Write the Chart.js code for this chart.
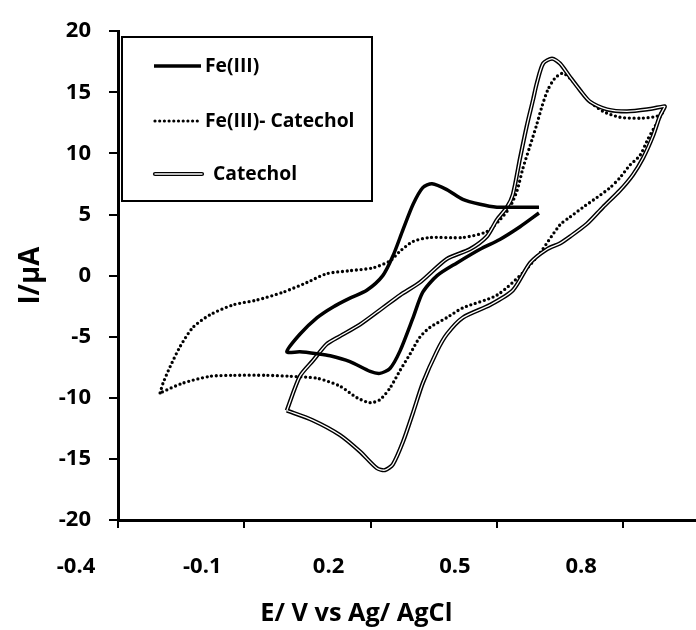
<!DOCTYPE html>
<html>
<head>
<meta charset="utf-8">
<script src="https://cdn.jsdelivr.net/npm/chart.js@4.4.1/dist/chart.umd.min.js"></script>
<style>
  html,body{margin:0;padding:0;background:#fff;overflow:hidden;}
  #wrap{width:696px;height:630px;position:relative;}
</style>
</head>
<body>
<div id="wrap"><canvas id="c" width="696" height="630"></canvas></div>
<script>
// ---- data ----
const seriesNames = ['Fe(III)', 'Fe(III)- Catechol', 'Catechol'];
const xTickValues = [-0.4, -0.1, 0.2, 0.5, 0.8];
const yTickValues = [-20, -15, -10, -5, 0, 5, 10, 15, 20];
const xTitle = 'E/ V vs Ag/ AgCl';
const yTitle = 'I/μA';

// Fe(III): E (V) and I (uA)
const feE = [0.600,0.555,0.507,0.460,0.405,0.358,0.324,0.301,0.270,0.246,
             0.222,0.199,0.151,0.104,0.073,0.032,0.001,
             0.032,0.073,0.111,0.151,0.191,0.229,0.253,0.277,0.301,0.324,
             0.346,0.381,0.419,0.460,0.500,0.538,0.600];
const feI = [5.12,4.0,2.96,2.16,1.04,0.0,-1.36,-3.44,-6.16,-7.6,
             -8.0,-7.84,-7.04,-6.56,-6.4,-6.24,-6.24,
             -4.8,-3.44,-2.56,-1.84,-1.2,0.0,1.6,3.76,5.84,7.2,
             7.52,7.04,6.24,5.84,5.6,5.6,5.6];

// Fe(III)- Catechol
const fcE = [-0.300,-0.293,-0.276,-0.253,-0.222,-0.181,-0.127,-0.070,-0.008,0.049,
             0.096,0.151,0.206,0.246,0.270,0.301,0.341,0.419,0.476,0.507,
             0.531,0.548,0.562,0.579,0.595,0.607,0.621,0.638,0.657,0.678,
             0.697,0.721,0.752,0.792,0.840,0.880,0.895,
             0.887,0.876,0.859,0.840,0.816,0.792,0.769,0.738,0.705,0.674,0.650,
             0.602,0.562,0.500,
             0.419,0.381,0.341,0.317,0.294,0.270,0.246,0.222,0.199,0.168,
             0.127,0.073,0.009,-0.046,-0.127,-0.181,-0.246,-0.300];
const fcI = [-9.6,-8.8,-7.44,-5.84,-4.24,-3.2,-2.4,-2.0,-1.36,-0.56,
             0.16,0.4,0.64,1.2,2.0,2.8,3.12,3.12,3.6,4.56,
             5.6,6.96,8.8,10.64,12.4,13.84,15.2,16.16,16.56,16.0,
             15.2,14.24,13.44,12.96,12.88,13.04,13.44,
             12.96,12.24,11.2,9.84,9.04,8.0,7.2,6.4,5.6,4.8,4.16,
             1.84,0.24,-1.6,
             -2.64,-3.44,-4.24,-5.04,-6.4,-7.76,-9.2,-10.16,-10.4,-10.0,
             -9.04,-8.4,-8.24,-8.16,-8.16,-8.24,-8.8,-9.6];

// Catechol
const caE = [0.001,0.032,0.063,0.096,0.127,0.175,0.229,0.270,0.317,0.381,
             0.436,0.476,0.500,0.524,0.538,0.555,0.571,0.586,0.595,0.610,
             0.631,0.650,0.674,0.697,0.721,0.762,0.809,0.857,0.895,0.899,
             0.887,0.871,0.847,0.823,0.792,0.752,0.714,0.674,0.650,0.619,0.579,0.538,
             0.484,0.419,0.381,0.358,0.324,0.301,0.277,0.253,0.234,0.215,
             0.175,0.127,0.063,0.001];
const caI = [-11.04,-8.24,-6.96,-5.6,-4.96,-4.0,-2.64,-1.6,-0.56,1.36,
             2.16,3.2,4.56,5.6,6.64,9.6,12.24,14.4,15.76,17.36,
             17.76,17.36,16.24,15.2,14.24,13.6,13.44,13.6,13.84,13.84,
             13.04,11.44,9.6,8.24,6.96,5.6,4.24,3.2,2.64,2.16,1.04,-1.2,
             -2.4,-3.44,-4.8,-6.16,-8.8,-11.2,-13.6,-15.44,-15.92,-15.76,
             -14.4,-13.04,-11.84,-11.04];

const pts = (xs, ys) => xs.map((x, i) => ({x: x, y: ys[i]}));

const FONT = '"Open Sans", "Noto Sans", "Liberation Sans", sans-serif';

// size a bold font so a text spans a given width (matches the reference text extents)
const mctx = document.createElement('canvas').getContext('2d');
function fitSize(text, width, base) {
  mctx.font = 'bold ' + base + 'px ' + FONT;
  const w = mctx.measureText(text).width;
  return Math.round(base * width / w * 10) / 10;
}
const legendSize = fitSize(seriesNames[1], 150, 20);
const xTitleSize = fitSize(xTitle, 192, 20);
const yTitleSize = fitSize(yTitle, 58, 20);
mctx.font = 'bold ' + xTitleSize + 'px ' + FONT;
const emW = mctx.measureText('\u2003').width;
const nPad = Math.max(0, Math.round(92 / emW));
const xTitleText = xTitle + '\u2003'.repeat(nPad);

const boxLegend = {
  id: 'boxLegend',
  afterDatasetsDraw(chart) {
    const ctx = chart.ctx;
    ctx.save();
    const bx = 122, by = 37, bw = 250, bh = 164;
    ctx.fillStyle = '#fff';
    ctx.fillRect(bx, by, bw, bh);
    ctx.strokeStyle = '#000';
    ctx.lineWidth = 2;
    ctx.strokeRect(bx, by, bw, bh);
    const rows = [66, 121, 174];
    ctx.font = 'bold ' + legendSize + 'px ' + FONT;
    ctx.textBaseline = 'middle';
    ctx.fillStyle = '#000';
    // Fe(III) solid
    ctx.lineCap = 'butt';
    ctx.setLineDash([]);
    ctx.lineWidth = 3.5;
    ctx.beginPath(); ctx.moveTo(154, rows[0]); ctx.lineTo(201, rows[0]); ctx.stroke();
    ctx.fillText(seriesNames[0], 205, rows[0] + 1);
    // dotted
    ctx.lineCap = 'round';
    ctx.setLineDash([0, 4.7]);
    ctx.lineWidth = 3.2;
    ctx.beginPath(); ctx.moveTo(155, rows[1]); ctx.lineTo(198, rows[1]); ctx.stroke();
    ctx.setLineDash([]);
    ctx.fillText(seriesNames[1], 205, rows[1] + 1);
    // double line
    ctx.lineCap = 'round';
    ctx.lineWidth = 4.2;
    ctx.strokeStyle = '#000';
    ctx.beginPath(); ctx.moveTo(155, rows[2]); ctx.lineTo(202, rows[2]); ctx.stroke();
    ctx.lineWidth = 1.4;
    ctx.strokeStyle = '#fff';
    ctx.beginPath(); ctx.moveTo(155, rows[2]); ctx.lineTo(202, rows[2]); ctx.stroke();
    ctx.fillText(seriesNames[2], 213, rows[2] + 1);
    ctx.restore();
  }
};

new Chart(document.getElementById('c'), {
  type: 'scatter',
  data: {
    datasets: [
      { label: seriesNames[0], data: pts(feE, feI), showLine: true, borderColor: '#000',
        borderWidth: 3.5, pointRadius: 0, tension: 0.25, order: 1 },
      { label: seriesNames[1], data: pts(fcE, fcI), showLine: true, borderColor: '#000',
        borderWidth: 3.3, borderDash: [0, 4.7], borderCapStyle: 'round', pointRadius: 0, tension: 0.25, order: 4 },
      { label: seriesNames[2], data: pts(caE, caI), showLine: true, borderColor: '#000',
        borderWidth: 4.2, pointRadius: 0, tension: 0.25, order: 3 },
      { label: seriesNames[2] + ' inner', data: pts(caE, caI), showLine: true, borderColor: '#fff',
        borderWidth: 1.3, pointRadius: 0, tension: 0.25, order: 2 }
    ]
  },
  options: {
    responsive: false,
    animation: false,
    devicePixelRatio: 1,
    layout: { padding: { top: 20, right: 0, left: 0, bottom: 0 } },
    plugins: { legend: { display: false }, tooltip: { enabled: false } },
    scales: {
      x: {
        type: 'linear',
        min: -0.4,
        max: 0.973,
        afterBuildTicks: s => { s.ticks = xTickValues.map(v => ({value: v})); },
        afterFit: s => { s.height = 110; },
        grid: { drawOnChartArea: false, drawTicks: true, tickLength: 8, color: '#000', lineWidth: 2 },
        border: { display: true, color: '#000', width: 3 },
        ticks: { color: '#000', padding: 26, labelOffset: -42, maxRotation: 0,
                 font: { family: FONT, size: 22, weight: 'bold' },
                 callback: v => v.toFixed(1) },
        title: { display: true, text: xTitleText, color: '#000',
                 font: { family: FONT, size: xTitleSize, weight: 'bold' }, padding: { top: 0, bottom: 1 } }
      },
      y: {
        min: -20,
        max: 20,
        afterBuildTicks: s => { s.ticks = yTickValues.map(v => ({value: v})); },
        afterFit: s => { s.width = 118; },
        grid: { drawOnChartArea: false, drawTicks: true, tickLength: 9, color: '#000', lineWidth: 2 },
        border: { display: true, color: '#000', width: 3 },
        ticks: { color: '#000', padding: 18, font: { family: FONT, size: 22, weight: 'bold' } },
        title: { display: true, text: yTitle, color: '#000',
                 font: { family: FONT, size: yTitleSize, weight: 'bold' }, padding: { top: 14, bottom: 0 } }
      }
    }
  },
  plugins: [boxLegend]
});
</script>
</body>
</html>
